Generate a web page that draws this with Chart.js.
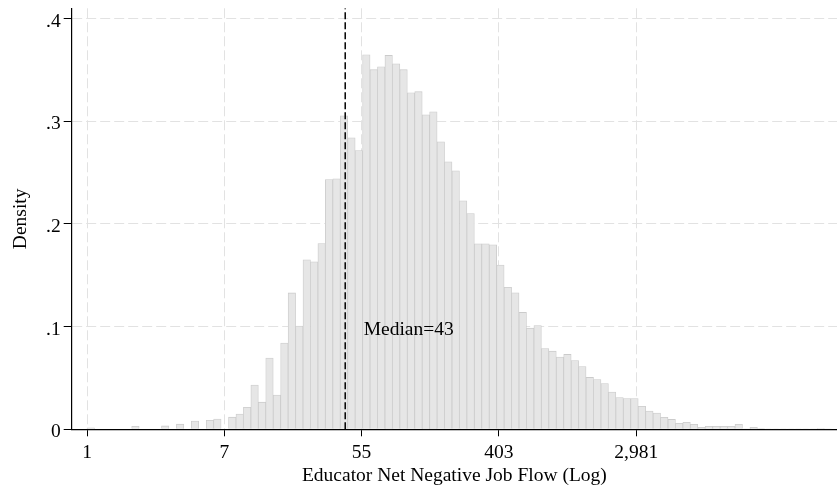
<!DOCTYPE html>
<html>
<head>
<meta charset="utf-8">
<script src="https://cdn.jsdelivr.net/npm/chart.js@4.4.1/dist/chart.umd.min.js"></script>
<style>
    html, body { margin: 0; padding: 0; background: #fff; }
    #wrap { width: 837px; height: 492px; }
</style>
</head>
<body>
<div id="wrap"><canvas id="myChart" width="837" height="492"></canvas></div>
<script>
// histogram of ln(job flow), 100 bins starting at 0
const binStart = 0;
const binWidth = 0.1085;
const density = [
    0.0015, 0, 0, 0, 0, 0, 0.0030, 0, 0, 0,
    0.0033, 0, 0.0050, 0, 0.0081, 0, 0.0088, 0.0100, 0, 0.0118,
    0.0148, 0.0214, 0.0431, 0.0264, 0.0694, 0.0333, 0.0840, 0.1328, 0.1005, 0.1650,
    0.1631, 0.1809, 0.2433, 0.2439, 0.3053, 0.2839, 0.2715, 0.3648, 0.3502, 0.3531,
    0.3641, 0.3560, 0.3502, 0.3278, 0.3288, 0.3063, 0.3092, 0.2800, 0.2605, 0.2517,
    0.2225, 0.2101, 0.1806, 0.1806, 0.1796, 0.1600, 0.1382, 0.1329, 0.1138, 0.0985,
    0.1011, 0.0787, 0.0761, 0.0703, 0.0729, 0.0670, 0.0612, 0.0505, 0.0485, 0.0446,
    0.0362, 0.0310, 0.0300, 0.0300, 0.0224, 0.0177, 0.0158, 0.0116, 0.0096, 0.0058,
    0.0069, 0.0049, 0.0020, 0.0029, 0.0029, 0.0029, 0.0029, 0.0049, 0.0005, 0.0019,
    0.0007, 0.0004, 0.0004, 0.0004, 0.0004, 0.0004, 0.0004, 0.0004, 0.0008, 0.0004
];
const xTickValues = [0, 2, 4, 6, 8];
const xTickLabels = ['1', '7', '55', '403', '2,981'];
const yTickValues = [0, 0.1, 0.2, 0.3, 0.4];
const yTickLabels = ['0', '.1', '.2', '.3', '.4'];
const medianValue = 43;
const medianLabel = 'Median=43';

const FONT = { family: 'Liberation Serif', size: 19.5 };
const yMax = 0.41;

const bars = density.map((d, i) => ({ x: binStart + (i + 0.5) * binWidth, y: d > 0 ? d : null }));
const medianLn = Math.log(medianValue);

const medianText = {
    id: 'medianText',
    afterDatasetsDraw(chart) {
        const { ctx, scales: { x, y } } = chart;
        ctx.save();
        ctx.font = `${FONT.size}px ${FONT.family}`;
        ctx.fillStyle = '#000';
        ctx.textAlign = 'left';
        ctx.textBaseline = 'alphabetic';
        ctx.fillText(medianLabel, x.getPixelForValue(4.03), y.getPixelForValue(0.1) + 8.3);
        ctx.restore();
    }
};

const zeroPad = (scale) => {
    scale.paddingLeft = 0;
    scale.paddingRight = 0;
    scale.paddingTop = 0;
    scale.paddingBottom = 0;
};

const ctx = document.getElementById('myChart').getContext('2d');
new Chart(ctx, {
    type: 'bar',
    data: {
        datasets: [{
            type: 'line',
            data: [{ x: medianLn, y: 0 }, { x: medianLn, y: yMax }],
            borderColor: '#000',
            borderWidth: 1.5,
            borderDash: [7, 3],
            pointRadius: 0,
            order: 0
        }, {
            data: bars,
            backgroundColor: '#e6e6e6',
            borderColor: '#cbcbcb',
            borderWidth: 0.8,
            borderSkipped: 'bottom',
            barPercentage: 1,
            categoryPercentage: 1,
            order: 1
        }]
    },
    plugins: [medianText],
    options: {
        responsive: false,
        animation: false,
        layout: { padding: { top: 8.3, right: 0, bottom: 0, left: 0 } },
        plugins: {
            legend: { display: false },
            tooltip: { enabled: false }
        },
        scales: {
            x: {
                type: 'linear',
                offset: false,
                min: -0.223,
                max: 10.925,
                afterBuildTicks: (scale) => { scale.ticks = xTickValues.map(v => ({ value: v })); },
                afterFit: (scale) => { scale.height = 62.7; zeroPad(scale); },
                ticks: {
                    font: FONT,
                    color: '#000',
                    padding: 4.5,
                    maxRotation: 0,
                    autoSkip: false,
                    callback: (v) => xTickLabels[xTickValues.indexOf(v)]
                },
                grid: {
                    offset: false,
                    color: '#e2e2e2',
                    lineWidth: 1,
                    tickLength: 7,
                    tickColor: '#000',
                    tickWidth: 1,
                    tickBorderDash: []
                },
                border: { display: true, color: '#000', width: 1.2, dash: [10, 4] },
                title: {
                    display: true,
                    text: 'Educator Net Negative Job Flow (Log)',
                    font: FONT,
                    color: '#000',
                    padding: { top: 0, bottom: 4 }
                }
            },
            y: {
                min: 0,
                max: yMax,
                afterBuildTicks: (scale) => { scale.ticks = yTickValues.map(v => ({ value: v })); },
                afterFit: (scale) => { scale.width = 71.7; zeroPad(scale); },
                ticks: {
                    font: FONT,
                    color: '#000',
                    padding: 3,
                    labelOffset: 3,
                    callback: (v) => yTickLabels[yTickValues.indexOf(v)]
                },
                grid: {
                    color: '#e2e2e2',
                    lineWidth: 1,
                    tickLength: 8,
                    tickColor: '#000',
                    tickWidth: 1,
                    tickBorderDash: []
                },
                border: { display: true, color: '#000', width: 1.2, dash: [10, 4] },
                title: {
                    display: true,
                    text: 'Density',
                    font: FONT,
                    color: '#000',
                    padding: { top: 8.8, bottom: 0 }
                }
            }
        }
    }
});
</script>
</body>
</html>
